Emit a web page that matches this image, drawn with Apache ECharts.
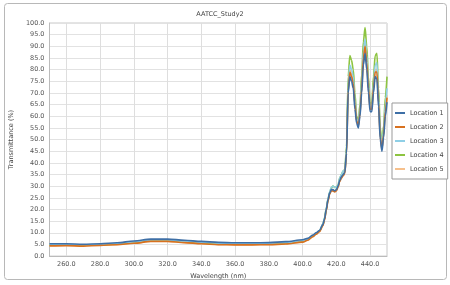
<!DOCTYPE html>
<html><head><meta charset="utf-8">
<script src="https://cdn.jsdelivr.net/npm/echarts@6/dist/echarts.min.js"></script>
<style>html,body{margin:0;padding:0;background:#fff}#c{width:450px;height:285px}</style>
</head><body><div id="c"></div>
<script>
const titleText = 'AATCC_Study2';
const xName = 'Wavelength (nm)';
const yName = 'Transmittance (%)';
const seriesNames = ['Location 1','Location 2','Location 3','Location 4','Location 5'];
const xTicks = [260,280,300,320,340,360,380,400,420,440];
const wavelengths = [250,260,270,280,290,300,310,320,330,340,350,360,370,380,390,400,
  403,406,408,410,412,413,414,415,416,417,418,419,420,421,422,423,424,425,426,427,428,429,430,
  431,432,433,434,435,436,437,438,439,440,441,442,443,444,445,446,447,448,449,450];
const loc1 = [5.3,5.3,5.1,5.3,5.7,6.5,7.3,7.3,6.8,6.3,5.9,5.7,5.7,5.8,6.2,7.0,
  7.6,9.0,10.0,11.0,13.5,16.0,20.0,24.0,27.0,28.5,28.5,28.0,28.5,30.0,32.5,34.0,35.0,36.0,44.0,70.0,77.0,75.0,72.0,
  63.0,57.0,55.0,60.0,70.0,82.0,87.0,80.0,70.0,62.0,62.0,70.0,77.0,76.0,64.0,50.0,45.0,51.0,60.0,66.0];
const loc2 = [4.4,4.5,4.3,4.6,4.9,5.5,6.3,6.3,5.8,5.3,4.9,4.8,4.8,4.9,5.2,6.0,
  6.8,8.3,9.4,10.5,13.0,15.5,19.5,23.5,26.5,28.0,28.0,27.5,28.0,29.5,32.0,33.5,34.5,35.5,44.0,71.0,79.0,77.0,74.0,
  65.0,58.0,56.0,61.0,72.0,85.0,90.0,83.0,72.0,63.0,63.0,72.0,79.0,79.0,66.0,51.0,46.0,52.0,62.0,68.0];
const loc3 = [5.0,5.0,4.8,5.0,5.4,6.1,6.9,6.9,6.4,5.9,5.5,5.3,5.3,5.4,5.8,6.6,
  7.3,8.8,9.9,11.0,13.8,16.5,20.5,24.5,27.5,29.5,30.0,29.5,29.5,30.5,33.5,35.0,36.5,37.0,46.0,74.0,82.0,80.0,77.0,
  67.0,59.0,57.0,63.0,75.0,88.0,93.0,86.0,74.0,64.0,64.0,74.0,82.0,83.0,69.0,53.0,47.0,54.0,65.0,72.0];
const loc4 = [4.8,4.8,4.6,4.9,5.2,5.8,6.6,6.6,6.1,5.6,5.2,5.1,5.1,5.2,5.5,6.3,
  7.0,8.5,9.6,10.8,13.6,16.3,20.3,24.3,27.3,29.3,30.0,29.5,29.5,30.5,33.5,35.0,36.5,37.0,47.0,77.0,86.0,84.0,80.0,
  70.0,60.0,58.0,65.0,78.0,92.0,98.0,90.0,77.0,65.0,66.0,77.0,86.0,87.0,72.0,55.0,48.0,56.0,68.0,77.0];
const loc5 = [4.6,4.7,4.5,4.8,5.0,5.6,6.4,6.4,5.9,5.4,5.0,4.9,4.9,5.0,5.3,6.1,
  6.9,8.4,9.5,10.6,13.2,15.8,19.8,23.8,26.8,28.3,28.3,27.8,28.3,29.8,32.3,33.8,34.8,35.8,44.5,72.0,80.0,78.0,75.0,
  66.0,58.0,56.0,62.0,73.0,86.0,91.0,84.0,73.0,63.0,63.0,73.0,80.0,80.0,67.0,52.0,46.0,53.0,63.0,69.0];

const allValues = [loc1, loc2, loc3, loc4, loc5];
const colors = ['#3e6fa6','#d8711f','#8fcfe6','#8dc441','#f6c08c'];
const zs = [10,9,8,7,6];
const FONT = 'DejaVu Sans';

const chart = echarts.init(document.getElementById('c'), null, {renderer:'canvas'});
const dataSeries = seriesNames.map((n,i)=>({
  name:n, type:'line', z:zs[i], symbol:'none', showSymbol:false,
  smooth:0.3, smoothMonotone:'x',
  lineStyle:{width:1.6, color:colors[i]}, itemStyle:{color:colors[i]},
  data: wavelengths.map((w,k)=>[w, allValues[i][k]])
}));
const gridSeries = {
  name:'_grid', type:'line', z:1, data:[], silent:true,
  markLine:{silent:true, symbol:'none', label:{show:false},
    lineStyle:{color:'#dedede', type:'solid', width:1},
    data: xTicks.map(v=>({xAxis:v}))}
};
chart.setOption({
  animation:false,
  backgroundColor:'#fff',
  textStyle:{fontFamily:FONT},
  title:{text:titleText, left:215, top:6, textAlign:'center',
    textStyle:{fontSize:6.5, fontWeight:'normal', color:'#444', fontFamily:FONT}},
  graphic:[{type:'rect', shape:{x:4.5, y:3.5, width:442, height:276, r:3},
    style:{fill:'none', stroke:'#b8b8b8', lineWidth:1}, z:-1}],
  legend:{orient:'vertical', left:392, top:103,
    padding:[5,4,5,3], itemGap:4, itemWidth:10, itemHeight:2, icon:'rect',
    borderColor:'#999', borderWidth:1, backgroundColor:'#fff',
    textStyle:{fontSize:6.5, color:'#444', fontFamily:FONT, lineHeight:8, padding:[1,0,1,0]},
    data:seriesNames},
  grid:{left:44, right:63, top:23, bottom:28, show:true, borderColor:'#c8c8c8', borderWidth:1, backgroundColor:'#fff'},
  xAxis:{type:'value', min:250, max:450, interval:10,
    name:xName, nameLocation:'middle', nameGap:15,
    nameTextStyle:{fontSize:6.5, color:'#444', fontFamily:FONT},
    axisLine:{show:true, lineStyle:{color:'#bbb'}},
    axisTick:{show:false},
    axisLabel:{fontSize:6.5, color:'#555', margin:5, customValues:xTicks, formatter:v=>v.toFixed(1)},
    splitLine:{show:false}},
  yAxis:{type:'value', min:0, max:100, interval:5,
    name:yName, nameLocation:'middle', nameGap:27,
    nameTextStyle:{fontSize:6.5, color:'#444', fontFamily:FONT},
    axisLine:{show:true, lineStyle:{color:'#bbb'}},
    axisTick:{show:false},
    axisLabel:{fontSize:6.5, color:'#555', margin:5, formatter:v=>v.toFixed(1)},
    splitLine:{show:true, lineStyle:{color:'#e2e2e2'}}},
  series: [gridSeries].concat(dataSeries)
});
</script></body></html>
